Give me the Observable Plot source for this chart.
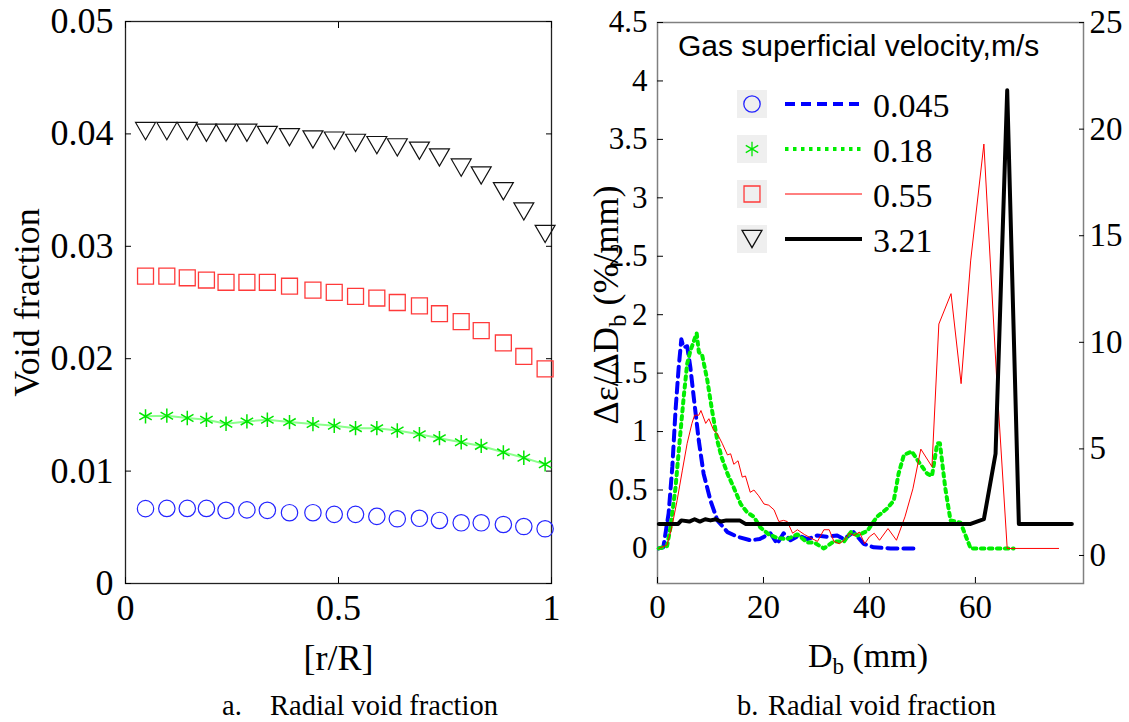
<!DOCTYPE html>
<html><head><meta charset="utf-8">
<script src="https://cdn.jsdelivr.net/npm/d3@7"></script>
<script src="https://cdn.jsdelivr.net/npm/@observablehq/plot@0.6"></script>
<style>
body{margin:0;background:#fff;}
#fig{position:relative;width:1129px;height:722px;overflow:hidden;background:#fff;}
#left,#right{position:absolute;top:0;}
#left{left:0px;}
#right{left:560px;}
#overlay{position:absolute;left:0;top:0;pointer-events:none;}
</style></head><body>
<div id="fig"><div id="left"></div><div id="right"></div><svg id="overlay" width="1129" height="722"></svg></div>
<script>
// ---------- Panel a: radial void fraction ----------
const rR = [0.047,0.097,0.145,0.19,0.236,0.285,0.333,0.385,0.44,0.49,0.54,0.59,0.638,0.69,0.737,0.788,0.835,0.887,0.935,0.985];
const vf045 = [0.00666,0.00668,0.00668,0.00668,0.00651,0.00655,0.00651,0.0063,0.0063,0.00615,0.00615,0.00597,0.00576,0.0058,0.00561,0.0054,0.0054,0.00525,0.00507,0.00487];
const vf018 = [0.01487,0.01493,0.01472,0.01457,0.01421,0.01442,0.01457,0.01436,0.01418,0.01403,0.01382,0.01382,0.01361,0.01328,0.01293,0.01257,0.01224,0.01167,0.01119,0.0106];
const vf055 = [0.02734,0.02734,0.0272,0.027,0.0268,0.0268,0.0268,0.02645,0.0261,0.0259,0.02555,0.0254,0.025,0.0247,0.024,0.0233,0.0225,0.0214,0.0202,0.0191];
const vf321 = [0.04025,0.04025,0.04025,0.0401,0.0401,0.0401,0.0399,0.0397,0.0395,0.0394,0.0392,0.039,0.0388,0.0385,0.0379,0.037,0.0363,0.0349,0.0331,0.0311];
const xTicksA = [0, 0.5, 1];
const yTicksA = [0, 0.01, 0.02, 0.03, 0.04, 0.05];

// ---------- Panel b: bubble size distribution ----------
const db045 = [[0.25,0],[1.1,0.01],[2.1,0.30],[2.8,0.70],[3.4,1.18],[4.0,1.55],[4.5,1.79],[4.9,1.72],[5.6,1.73],[6.2,1.55],[6.9,1.27],[7.8,0.92],[8.7,0.64],[10.0,0.41],[11.3,0.24],[13.2,0.14],[15.1,0.10],[17.5,0.07],[19.3,0.08],[21.3,0.13],[22.6,0.04],[23.8,0.13],[25.1,0.07],[26.7,0.11],[28.3,0.08],[30.1,0.11],[32.0,0.10],[33.9,0.11],[35.2,0.08],[37.0,0.14],[38.9,0.04],[40.8,0.01],[44.0,0],[49.3,0]];
const db018 = [[0.25,0],[1.8,0.02],[2.45,0.18],[3.4,0.52],[4.3,0.98],[5.0,1.32],[5.6,1.58],[6.2,1.69],[6.9,1.78],[7.4,1.84],[7.8,1.68],[8.4,1.66],[9.4,1.44],[10.3,1.18],[11.3,0.92],[12.1,0.78],[13.2,0.64],[14.4,0.52],[15.7,0.38],[16.9,0.31],[18.2,0.27],[19.4,0.18],[21.0,0.12],[22.6,0.09],[24.5,0.08],[26.4,0.12],[28.3,0.05],[29.6,0.05],[31.4,0],[33.3,0.06],[35.2,0.06],[36.5,0.14],[37.7,0.11],[39.6,0.15],[41.4,0.27],[43.3,0.34],[44.6,0.41],[45.5,0.64],[46.5,0.80],[48.0,0.83],[49.3,0.74],[50.9,0.64],[51.8,0.62],[52.8,0.90],[53.3,0.90],[54.3,0.52],[55.3,0.24],[57.2,0.22],[59.1,0],[67.2,0]];
const db055 = [[0.25,0],[1.8,0.03],[2.7,0.18],[3.7,0.41],[4.7,0.67],[5.6,0.90],[6.5,1.07],[7.0,1.14],[7.8,1.14],[8.2,1.18],[9.1,1.07],[9.7,1.11],[10.6,1.01],[11.3,0.98],[12.2,0.90],[13.2,0.80],[13.8,0.81],[14.4,0.72],[15.2,0.75],[16.0,0.61],[16.6,0.62],[17.5,0.48],[18.2,0.50],[19.1,0.45],[20.1,0.38],[21.0,0.37],[22.0,0.33],[22.9,0.23],[23.8,0.24],[24.5,0.23],[25.5,0.13],[26.4,0.16],[27.7,0.12],[28.9,0.09],[30.2,0.06],[31.4,0.16],[32.4,0.16],[33.3,0.06],[34.3,0.04],[35.2,0.07],[36.2,0.13],[37.1,0.11],[38.1,0.14],[39.1,0.04],[40.0,0.10],[40.9,0.13],[41.9,0.07],[43.5,0.17],[45.1,0.07],[46.7,0.27],[48.2,0.51],[49.7,0.85],[51.8,0.70],[53.1,1.92],[55.4,2.18],[57.3,1.41],[59.1,2.46],[61.6,3.46],[64.1,1.38],[66.0,0],[75.7,0]];
const db321 = [[0.25,0.21],[3.9,0.21],[4.5,0.24],[6,0.23],[7,0.25],[8,0.23],[9,0.25],[10,0.24],[11,0.25],[12,0.23],[13,0.24],[15.5,0.24],[16.6,0.21],[59.1,0.21],[61.6,0.25],[63.8,0.81],[66.0,3.92],[68.2,0.21],[78.2,0.21]];
const xTicksB = [0, 20, 40, 60];
const yTicksB = [0, 0.5, 1, 1.5, 2, 2.5, 3, 3.5, 4, 4.5];
const rightTicks = [0, 5, 10, 15, 20, 25];
const legendTitle = "Gas superficial velocity,m/s";
const legendLabels = ["0.045", "0.18", "0.55", "3.21"];

// right-axis units relative to left-axis units
const RA = 5.483, RB = 0.33;
const toLeft = v => (v - RB) / RA;

const serif = "'Liberation Serif','Times New Roman',serif";
const baseStyle = {fontFamily: serif, fontSize: "33px", color: "#000", background: "transparent", overflow: "visible"};
const empty = () => "";

const rowsA = rR.map((r, i) => ({r, a: vf045[i], b: vf018[i], c: vf055[i], d: vf321[i]}));

const left = Plot.plot({
  width: 570, height: 640,
  marginLeft: 125, marginRight: 19, marginTop: 21, marginBottom: 57,
  style: baseStyle,
  x: {domain: [0, 1]},
  y: {domain: [0, 0.05]},
  marks: [
    Plot.frame({stroke: "#222", strokeWidth: 1.3}),
    Plot.axisX(xTicksA, {tickSize: 0, tickPadding: 11, tickFormat: d => String(d), label: "[r/R]", labelAnchor: "center", labelOffset: 86, labelArrow: "none", fontSize: 35}),
    Plot.axisX(xTicksA, {tickSize: -6, tickFormat: empty, label: null, stroke: "#000"}),
    Plot.axisX(xTicksA, {anchor: "top", tickSize: -6, tickFormat: empty, label: null, stroke: "#000"}),
    Plot.axisY(yTicksA, {tickSize: 0, tickPadding: 12, tickFormat: d => d === 0 ? "0" : d.toFixed(2), label: "Void fraction", labelAnchor: "center", labelOffset: 112, labelArrow: "none"}),
    Plot.axisY(yTicksA, {tickSize: -6, tickFormat: empty, label: null, stroke: "#000"}),
    Plot.axisY(yTicksA, {anchor: "right", tickSize: -6, tickFormat: empty, label: null, stroke: "#000"}),
    Plot.dot(rowsA, {x: "r", y: "a", symbol: "circle", r: 8.2, stroke: "#2424ff", strokeWidth: 1.2, fill: "none"}),
    Plot.line(rowsA, {x: "r", y: "b", stroke: "#8cff8c", strokeWidth: 2}),
    Plot.dot(rowsA, {x: "r", y: "b", symbol: "asterisk", r: 6.8, stroke: "#00e600", strokeWidth: 1.5}),
    Plot.dot(rowsA, {x: "r", y: "c", symbol: "square", r: 9, stroke: "#ff3a3a", strokeWidth: 1.3, fill: "none"}),
    Plot.dot(rowsA, {x: "r", y: "d", symbol: "triangle", r: 7.4, rotate: 180, dy: -2.9, stroke: "#111", strokeWidth: 1.2, fill: "none"})
  ]
});
document.getElementById("left").append(left);
// larger axis-title text, as in the reference
d3.select(left).selectAll("[aria-label$='label'] text").attr("font-size", 36);

const right = Plot.plot({
  width: 569, height: 640,
  marginLeft: 97, marginRight: 46, marginTop: 22, marginBottom: 57,
  style: baseStyle,
  x: {domain: [0, 80.4]},
  y: {domain: [-0.3, 4.5]},
  marks: [
    Plot.frame({stroke: "#808080", strokeWidth: 1.5}),
    Plot.axisX(xTicksB, {tickSize: 0, tickPadding: 11, label: null}),
    Plot.axisX(xTicksB, {tickSize: -6, tickFormat: empty, label: null, stroke: "#000"}),
    Plot.axisY(yTicksB, {tickSize: 0, tickPadding: 10, tickFormat: d => String(d), label: null, fontSize: 31}),
    Plot.axisY(yTicksB, {tickSize: -6, tickFormat: empty, label: null, stroke: "#000"}),
    Plot.axisY(rightTicks.map(toLeft), {anchor: "right", tickSize: 0, tickPadding: 6, tickFormat: u => String(Math.round(u * RA + RB)), label: null}),
    Plot.axisY(rightTicks.map(toLeft), {anchor: "right", tickSize: -5, tickFormat: empty, label: null, stroke: "#000"}),
    Plot.line(db045, {x: d => d[0], y: d => d[1], stroke: "#0000ff", strokeWidth: 4, strokeDasharray: "10,6"}),
    Plot.line(db018, {x: d => d[0], y: d => d[1], stroke: "#00ee00", strokeWidth: 4, strokeDasharray: "3.5,4.5"}),
    Plot.line(db055, {x: d => d[0], y: d => d[1], stroke: "#ff0000", strokeWidth: 1}),
    Plot.line(db321, {x: d => d[0], y: d => d[1], stroke: "#000", strokeWidth: 4})
  ]
});
document.getElementById("right").append(right);

// ---------- overlay: legend, panel-b axis labels, captions ----------
const ov = d3.select("#overlay");
const sym = (type, r) => d3.symbol(type, Math.PI * r * r)();
ov.append("text").attr("x", 678).attr("y", 56).attr("font-family", "'Liberation Sans',Arial,sans-serif")
  .attr("font-size", 30).text(legendTitle);
const legY = [104, 149, 194, 239];
const legStyles = [
  {stroke: "#0000ff", w: 4, dash: "10,6", sym: d3.symbolCircle, r: 8.2, sc: "#2424ff", rot: 0},
  {stroke: "#00ee00", w: 4, dash: "3.5,4.5", sym: d3.symbolAsterisk, r: 6.8, sc: "#00e600", rot: 0},
  {stroke: "#ff0000", w: 1, dash: null, sym: d3.symbolSquare, r: 9, sc: "#ff3a3a", rot: 0},
  {stroke: "#000", w: 4, dash: null, sym: d3.symbolTriangle, r: 7.4, sc: "#111", rot: 180}
];
legendLabels.forEach((lab, i) => {
  const y = legY[i], s = legStyles[i];
  ov.append("rect").attr("x", 737).attr("y", y - 14).attr("width", 30).attr("height", 28).attr("fill", "#efefef");
  ov.append("path").attr("d", sym(s.sym, s.r)).attr("fill", "none").attr("stroke", s.sc).attr("stroke-width", 1.3)
    .attr("transform", `translate(752,${y + (s.rot ? -2.9 : 0)}) rotate(${s.rot})`);
  ov.append("line").attr("x1", 785).attr("x2", 862).attr("y1", y).attr("y2", y)
    .attr("stroke", s.stroke).attr("stroke-width", s.w).attr("stroke-dasharray", s.dash);
  ov.append("text").attr("x", 873).attr("y", y + 13).attr("font-family", serif).attr("font-size", 34).text(lab);
});
// panel b y label
const yl = ov.append("text").attr("transform", "translate(618,305) rotate(-90)").attr("text-anchor", "middle")
  .attr("font-family", serif).attr("font-size", 36);
yl.append("tspan").text("Δε/ΔD");
yl.append("tspan").attr("dy", 8).attr("font-size", 25).text("b");
yl.append("tspan").attr("dy", -8).text(" (%/mm)");
// panel b x label
const xl = ov.append("text").attr("x", 868).attr("y", 667).attr("text-anchor", "middle")
  .attr("font-family", serif).attr("font-size", 34);
xl.append("tspan").text("D");
xl.append("tspan").attr("dy", 7).attr("font-size", 23).text("b");
xl.append("tspan").attr("dy", -7).text(" (mm)");
// captions
const caps = [{x: 222, t: "a."}, {x: 270, t: "Radial void fraction"}, {x: 737, t: "b."}, {x: 768, t: "Radial void fraction"}];
caps.forEach(c => ov.append("text").attr("x", c.x).attr("y", 715).attr("font-family", serif).attr("font-size", 28.5).text(c.t));
</script>
</body></html>
